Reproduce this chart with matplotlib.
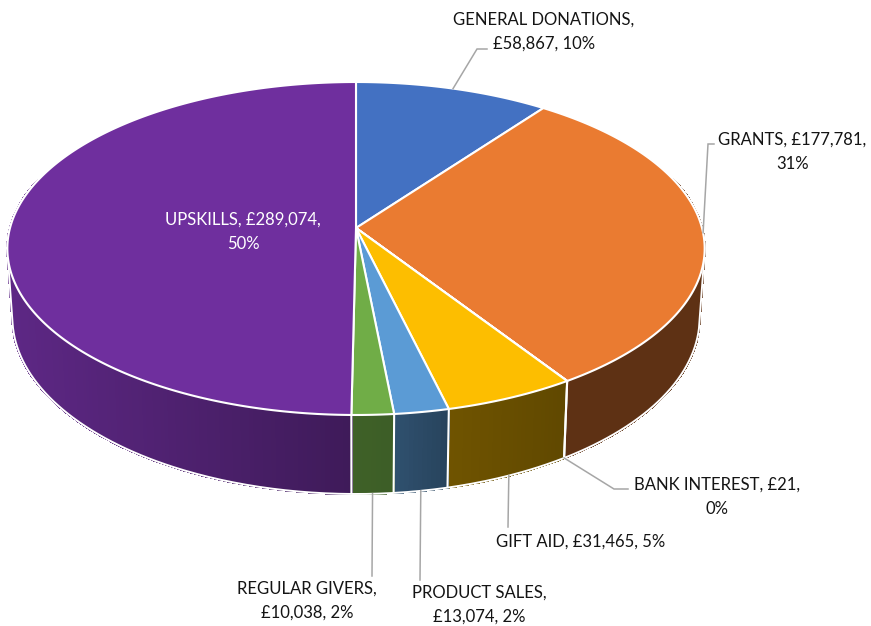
import numpy as np
import matplotlib
matplotlib.use("Agg")
import matplotlib.pyplot as plt
from matplotlib.collections import PolyCollection
from matplotlib.colors import to_rgb

# Income by source, clockwise from twelve o'clock
categories = ["GENERAL DONATIONS", "GRANTS", "BANK INTEREST", "GIFT AID",
              "PRODUCT SALES", "REGULAR GIVERS", "UPSKILLS"]
amounts = [58867, 177781, 21, 31465, 13074, 10038, 289074]
percent_labels = ["10%", "31%", "0%", "5%", "2%", "2%", "50%"]

face_colors = ["#4371C2", "#EA7B31", "#A5A5A5", "#FDBE00", "#5B9BD5", "#70AD47", "#6F2F9E"]
# Side-wall darkening at the left and right end of each slice
shade_left = [0.40, 0.40, 0.40, 0.44, 0.52, 0.56, 0.84]
shade_right = [0.40, 0.40, 0.40, 0.38, 0.43, 0.54, 0.56]

# Perspective model of the tilted disc: axes are in pixels
CX = 356.0
TILT = 0.1231
TOP = dict(q=228.0, p=-135.9, s=346.0)
BOTTOM = dict(q=295.8, p=-137.4, s=341.0)


def rim(theta, plane):
    """Project an angle (radians, clockwise from top) on to a disc rim."""
    u, v = np.sin(theta), np.cos(theta)
    w = 1 + TILT * v
    return CX + plane["s"] * u / w, (plane["q"] + plane["p"] * v) / w


def convex_outline(points):
    """Closed convex hull of 2-D points, by the monotone chain method."""
    pts = sorted(map(tuple, points))

    def half(seq):
        out = []
        for p in seq:
            while len(out) > 1 and ((out[-1][0] - out[-2][0]) * (p[1] - out[-2][1])
                                    - (out[-1][1] - out[-2][1]) * (p[0] - out[-2][0])) <= 0:
                out.pop()
            out.append(p)
        return out[:-1]

    hull = half(pts) + half(pts[::-1])
    return np.array(hull + hull[:1])


fig = plt.figure(figsize=(8.71, 6.26), dpi=100)
ax = fig.add_axes([0, 0, 1, 1])
ax.set_xlim(0, 871)
ax.set_ylim(626, 0)
ax.axis("off")
plt.rcParams["font.family"] = ["Lato", "DejaVu Sans"]

values = np.array(amounts, dtype=float)
edges = np.concatenate([[0], np.cumsum(values)]) / values.sum() * 2 * np.pi
mids = (edges[:-1] + edges[1:]) / 2

# Side wall, built from thin quads so the shading can vary along the rim
for i, color in enumerate(face_colors):
    n = max(2, int(np.degrees(edges[i + 1] - edges[i]) * 1.5))
    t = np.linspace(edges[i], edges[i + 1], n + 1)
    xt, yt = rim(t, TOP)
    xb, yb = rim(t, BOTTOM)
    lo, hi = xt.min(), xt.max()
    quads, cols = [], []
    base = np.array(to_rgb(color))
    for k in range(n):
        if np.cos(t[k]) > 0.3 and np.cos(t[k + 1]) > 0.3:
            continue  # hidden behind the top face
        quads.append([(xt[k], yt[k]), (xt[k + 1], yt[k + 1]), (xb[k + 1], yb[k + 1]), (xb[k], yb[k])])
        f = ((xt[k] + xt[k + 1]) / 2 - lo) / max(hi - lo, 1e-6)
        cols.append(base * (shade_left[i] + (shade_right[i] - shade_left[i]) * f))
    ax.add_collection(PolyCollection(quads, facecolors=cols, edgecolors=cols, linewidths=1.0,
                                     antialiased=False, zorder=2))

# Soft white outline that smooths the outer silhouette of the disc
t = np.linspace(0, 2 * np.pi, 721)[:-1]
outline = convex_outline(np.vstack([np.column_stack(rim(t, TOP)), np.column_stack(rim(t, BOTTOM))]))
ax.plot(outline[:, 0], outline[:, 1], color="white", lw=1.4, zorder=2.5)

# White seams between slices on the visible part of the wall
for e in edges:
    if np.pi * 0.5 < e < np.pi * 1.5:
        xa, ya = rim(e, TOP)
        xc, yc = rim(e, BOTTOM)
        ax.plot([xa, xc], [ya, yc], color="white", lw=1.5, zorder=3, solid_capstyle="butt")

# Top face
for i, color in enumerate(face_colors):
    n = max(2, int(np.degrees(edges[i + 1] - edges[i]) * 2))
    t = np.linspace(edges[i], edges[i + 1], n + 1)
    xs, ys = rim(t, TOP)
    pts = np.column_stack([np.r_[CX, xs], np.r_[TOP["q"], ys]])
    ax.fill(pts[:, 0], pts[:, 1], facecolor=color, edgecolor="white", lw=1.5,
            joinstyle="round", zorder=4)

# Leader lines: rim anchor, then the elbow points towards each label
leaders = {
    0: (TOP, mids[0], [(477, 49), (487, 49)]),
    1: (TOP, mids[1], [(708, 144), (714, 144)]),
    2: (BOTTOM, mids[2], [(614, 489), (628, 489)]),
    3: (BOTTOM, mids[3], [(508, 527)]),
    4: (BOTTOM, mids[4], [(420, 580)]),
    5: (BOTTOM, mids[5], [(372, 576)]),
}
for plane, angle, elbow in leaders.values():
    x0, y0 = rim(angle, plane)
    xs = [x0] + [p[0] for p in elbow]
    ys = [y0] + [p[1] for p in elbow]
    ax.plot(xs, ys, color="#A6A6A6", lw=1.1, zorder=5, solid_joinstyle="miter")

label_pos = [(544, 32), (792.5, 151.5), (717, 496.5), (581, 541.5), (479, 605), (307, 600.5), (243, 232)]
label_text = [
    "{},\n£{:,}, {}",
    "{}, £{:,},\n{}",
    "{}, £{:,},\n{}",
    "{}, £{:,}, {}",
    "{},\n£{:,}, {}",
    "{},\n£{:,}, {}",
    "{}, £{:,},\n{}",
]
for i, (x, y) in enumerate(label_pos):
    ax.text(x, y, label_text[i].format(categories[i], amounts[i], percent_labels[i]),
            ha="center", va="center", fontsize=12.0, linespacing=1.62,
            color="white" if i == 6 else "#141414", zorder=6)

fig.savefig("out.png", dpi=100, facecolor="white")
